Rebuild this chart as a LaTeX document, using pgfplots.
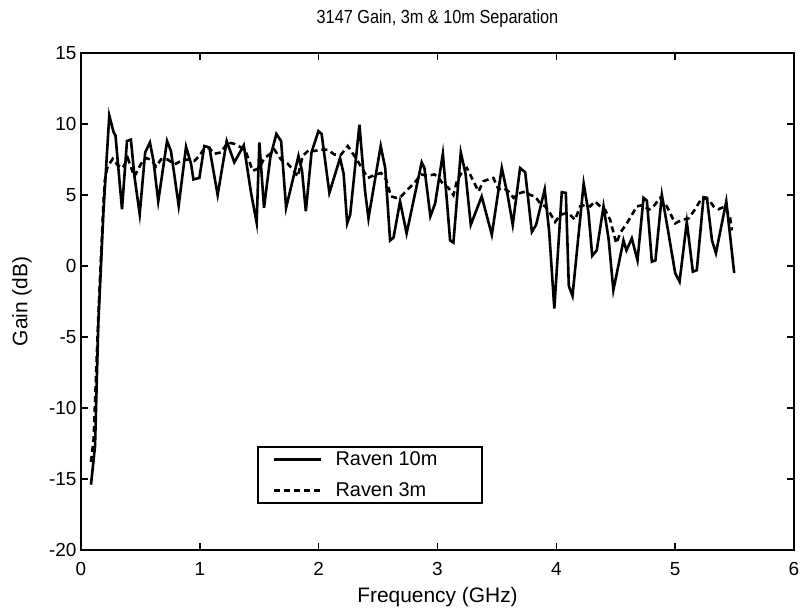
\documentclass[border=0pt]{standalone}
\usepackage{pgfplots}
\pgfplotsset{compat=1.18}
\usepackage{fontspec}
\setmainfont{Liberation Sans}
\begin{document}
\begin{tikzpicture}
\useasboundingbox (0,0) rectangle (802bp,609bp);
\begin{axis}[
  at={(81bp,59bp)}, anchor=south west,
  width=713bp, height=497bp, scale only axis,
  xmin=0, xmax=6, ymin=-20, ymax=15,
  xtick={0,1,2,3,4,5,6}, ytick={-20,-15,-10,-5,0,5,10,15},
  tick align=inside,
  major tick length=7bp,
  every tick/.style={black, line width=1.6bp},
  axis line style={line width=2.5bp},
  /pgf/number format/assume math mode=true,
  tick label style={font=\fontsize{19}{22}\selectfont},
  xticklabel style={yshift=-9bp},
  yticklabel style={xshift=-1bp},
  label style={font=\fontsize{21}{24}\selectfont},
  xlabel={Frequency (GHz)},
  ylabel={Gain (dB)},
  xlabel style={at={(axis description cs:0.5,0)}, anchor=center, yshift=-47bp},
  ylabel style={at={(axis description cs:-0.0827,0.5)}, anchor=center},
  title={\scalebox{0.86}[1]{3147 Gain, 3m \& 10m Separation}},
  title style={font=\fontsize{19}{22}\selectfont, at={(axis description cs:0.5,1)}, anchor=center, yshift=28bp},
  legend image code/.code={\draw[#1] (0bp,0bp) -- (47bp,0bp);},
  legend style={at={(0.2468,0.0926)}, anchor=south west, draw=black, line width=2bp,
    font=\fontsize{20}{23}\selectfont, inner xsep=15bp, inner ysep=2.5bp, row sep=12bp,
    column sep=11bp, nodes={inner sep=2bp}},
  legend cell align=left,
]
\addplot[black, line width=2.6bp] coordinates {
(0.084,-15.4) (0.118,-12.7) (0.146,-4.0) (0.19,4.0) (0.238,10.6) (0.275,9.4) (0.29,9.2)
(0.345,4.0) (0.387,8.8) (0.42,8.9) (0.45,6.3) (0.494,3.65) (0.54,8.0) (0.58,8.7) (0.61,7.4)
(0.65,4.55) (0.724,8.8) (0.757,8.1) (0.822,4.25) (0.884,8.4) (0.926,7.2) (0.946,6.1)
(0.996,6.2) (1.038,8.45) (1.08,8.35) (1.15,5.0) (1.226,8.8) (1.29,7.3) (1.37,8.5) (1.43,5.2)
(1.478,3.05) (1.501,8.7) (1.54,4.1) (1.594,7.7) (1.644,9.3) (1.684,8.8) (1.726,4.1)
(1.83,7.75) (1.86,6.7) (1.892,3.85) (1.94,8.0) (1.998,9.5) (2.025,9.3) (2.09,5.15)
(2.18,7.6) (2.21,6.5) (2.24,3.0) (2.265,3.6) (2.343,9.95) (2.39,5.3) (2.419,3.35)
(2.522,8.45) (2.56,6.9) (2.601,1.8) (2.63,2.0) (2.685,4.55) (2.74,2.3) (2.867,7.3)
(2.89,6.9) (2.94,3.5) (2.98,4.4) (3.045,7.9) (3.08,4.5) (3.106,1.8) (3.134,1.65)
(3.196,8.0) (3.236,6.5) (3.28,2.9) (3.372,4.9) (3.457,2.2) (3.541,6.9) (3.59,5.0)
(3.633,2.9) (3.695,6.9) (3.738,6.6) (3.794,2.4) (3.83,2.9) (3.902,5.4) (3.94,2.4)
(3.983,-3.0) (4.046,5.2) (4.08,5.15) (4.105,-1.4) (4.136,-2.1) (4.23,5.8) (4.27,3.8)
(4.302,0.72) (4.34,1.1) (4.397,4.2) (4.44,1.9) (4.48,-1.7) (4.565,1.8) (4.59,1.1)
(4.635,1.95) (4.683,0.4) (4.734,4.8) (4.762,4.6) (4.804,0.3) (4.834,0.4) (4.888,5.0)
(4.944,2.3) (5.0,-0.5) (5.037,-1.1) (5.098,3.1) (5.149,-0.4) (5.182,-0.3) (5.239,4.85)
(5.267,4.8) (5.31,1.8) (5.343,0.9) (5.43,4.55) (5.497,-0.5)
};
\addlegendentry{Raven 10m\hspace*{28bp}}
\addplot[black, line width=2.6bp, dash pattern=on 6bp off 4bp] coordinates {
(0.084,-13.8) (0.106,-12.2) (0.146,-3.5) (0.188,4.3) (0.2,6.0) (0.224,7.0) (0.267,7.55)
(0.309,7.1) (0.351,6.9) (0.393,7.6) (0.449,6.3) (0.505,7.2) (0.547,7.6) (0.589,7.5)
(0.631,7.0) (0.673,7.5) (0.73,7.5) (0.786,7.15) (0.842,7.4) (0.898,7.5) (0.954,7.4)
(0.996,7.75) (1.038,8.3) (1.08,8.3) (1.122,7.9) (1.178,8.0) (1.235,8.7) (1.291,8.6)
(1.347,8.35) (1.389,8.0) (1.445,6.7) (1.501,6.9) (1.543,7.6) (1.585,7.85) (1.627,8.2)
(1.683,7.5) (1.74,7.2) (1.782,6.8) (1.824,6.3) (1.866,7.75) (1.922,8.2) (1.964,8.1)
(2.02,8.2) (2.076,8.2) (2.132,7.85) (2.189,7.85) (2.245,8.45) (2.301,7.75) (2.357,7.0)
(2.413,6.2) (2.469,6.4) (2.525,6.55) (2.567,6.1) (2.609,4.9) (2.652,4.8) (2.694,4.9)
(2.75,5.4) (2.806,5.85) (2.862,6.45) (2.918,6.35) (2.974,6.45) (3.0,6.3) (3.05,5.75)
(3.092,5.5) (3.134,5.0) (3.163,5.97) (3.205,6.6) (3.247,6.9) (3.289,6.2) (3.345,5.25)
(3.387,5.97) (3.43,6.1) (3.47,6.2) (3.513,5.4) (3.555,5.5) (3.598,5.25) (3.64,4.8)
(3.682,5.1) (3.738,5.25) (3.78,5.0) (3.822,4.9) (3.864,4.4) (3.906,4.2) (3.948,3.7)
(3.99,3.1) (4.032,3.6) (4.074,3.7) (4.116,3.6) (4.158,3.25) (4.2,4.2) (4.243,4.3)
(4.285,4.2) (4.327,4.55) (4.369,4.2) (4.411,3.95) (4.453,3.25) (4.504,1.6) (4.543,2.4)
(4.593,3.0) (4.636,3.6) (4.677,4.2) (4.734,4.3) (4.776,3.95) (4.818,4.2) (4.874,4.8)
(4.93,4.2) (5.0,3.0) (5.056,3.25) (5.113,3.35) (5.168,4.0) (5.225,4.8) (5.281,4.7)
(5.323,4.2) (5.365,4.0) (5.421,4.2) (5.463,3.35) (5.478,2.5)
};
\addlegendentry{Raven 3m}
\end{axis}
\end{tikzpicture}
\end{document}
